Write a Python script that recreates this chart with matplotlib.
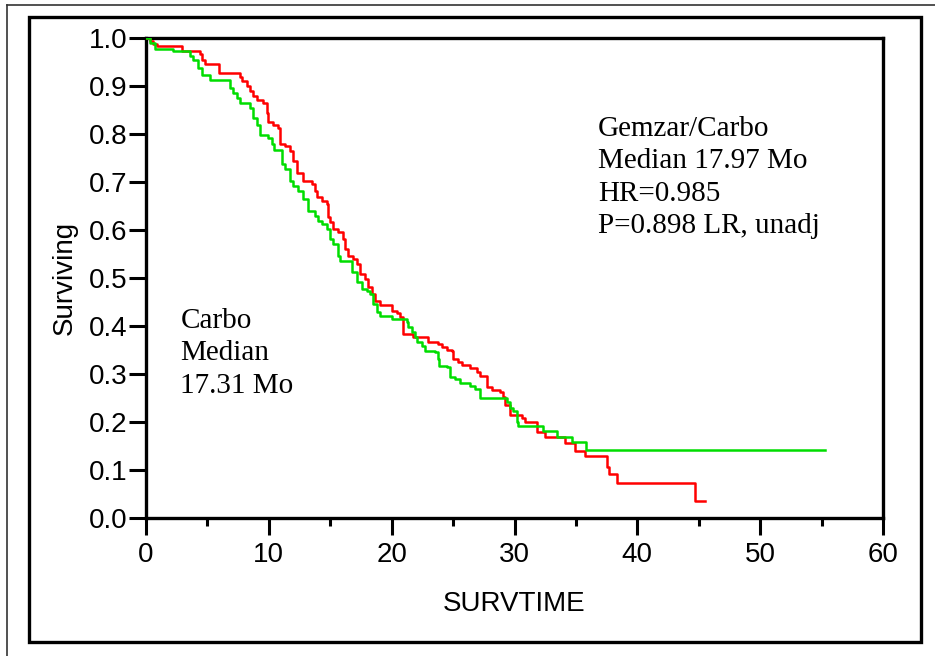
import numpy as np
import matplotlib.pyplot as plt
from matplotlib.patches import Rectangle
from matplotlib.lines import Line2D

# Kaplan-Meier steps (time in months, survival after step)
gem_time = [0, 0.33, 0.57, 0.9, 2.93, 4.4, 4.56, 4.8, 5.95, 7.65, 7.82, 8.22, 8.47, 8.71,
            9.04, 9.53, 9.85, 9.93, 10.34, 10.75, 10.91, 11.32, 11.73, 11.97, 12.3, 12.79,
            13.52, 13.76, 13.93, 14.33, 14.74, 14.82, 14.98, 15.23, 15.64, 16.04, 16.21,
            16.45, 16.86, 17.18, 17.43, 17.83, 18.08, 18.4, 18.65, 19.06, 20.03, 20.44,
            20.68, 20.93, 21.74, 22.96, 23.78, 24.1, 24.51, 24.92, 25.0, 25.41, 25.73,
            26.38, 26.95, 27.2, 27.77, 28.18, 28.83, 29.07, 29.23, 29.64, 30.62, 30.86,
            31.84, 32.49, 34.12, 34.93, 35.75, 37.54, 37.7, 38.36, 44.71, 45.5]
gem_surv = [1.0, 0.994, 0.987, 0.983, 0.973, 0.967, 0.954, 0.946, 0.927, 0.918, 0.910,
            0.900, 0.889, 0.879, 0.870, 0.864, 0.843, 0.826, 0.818, 0.812, 0.780, 0.774,
            0.764, 0.743, 0.718, 0.703, 0.695, 0.682, 0.669, 0.661, 0.655, 0.628, 0.617,
            0.603, 0.596, 0.582, 0.561, 0.546, 0.540, 0.529, 0.508, 0.498, 0.481, 0.467,
            0.452, 0.444, 0.431, 0.427, 0.418, 0.383, 0.377, 0.366, 0.362, 0.356, 0.351,
            0.347, 0.331, 0.324, 0.318, 0.312, 0.305, 0.295, 0.272, 0.266, 0.262, 0.253,
            0.236, 0.215, 0.209, 0.199, 0.180, 0.169, 0.157, 0.140, 0.130, 0.107, 0.092,
            0.073, 0.036, 0.036]

carbo_time = [0, 0.33, 0.73, 2.2, 3.58, 3.83, 4.23, 4.56, 5.21, 6.84, 7.08, 7.41, 7.65,
              8.47, 8.71, 9.04, 9.28, 9.93, 10.26, 10.42, 11.07, 11.32, 11.73, 11.97,
              12.38, 12.79, 13.19, 13.76, 14.01, 14.33, 14.74, 14.98, 15.23, 15.64, 15.8,
              16.78, 17.18, 17.59, 18.0, 18.24, 18.49, 18.81, 19.06, 20.03, 21.25, 21.34,
              21.66, 21.91, 22.07, 22.48, 22.72, 23.53, 23.78, 23.86, 24.51, 24.76, 25.16,
              25.57, 26.38, 26.79, 27.2, 29.4, 29.64, 29.89, 30.21, 30.29, 32.33, 33.47,
              34.69, 35.83, 55.3]
carbo_surv = [1.0, 0.990, 0.977, 0.973, 0.962, 0.954, 0.937, 0.923, 0.912, 0.895, 0.885,
              0.874, 0.864, 0.854, 0.833, 0.818, 0.797, 0.791, 0.780, 0.766, 0.738, 0.728,
              0.703, 0.692, 0.682, 0.665, 0.640, 0.630, 0.619, 0.613, 0.603, 0.582, 0.571,
              0.546, 0.536, 0.513, 0.492, 0.477, 0.473, 0.467, 0.446, 0.429, 0.421, 0.414,
              0.408, 0.397, 0.387, 0.377, 0.366, 0.358, 0.347, 0.345, 0.331, 0.316, 0.314,
              0.293, 0.289, 0.282, 0.274, 0.268, 0.251, 0.241, 0.230, 0.222, 0.201, 0.192,
              0.182, 0.169, 0.159, 0.142, 0.142]

gem_text = ["Gemzar/Carbo", "Median 17.97 Mo", "HR=0.985", "P=0.898 LR, unadj"]
carbo_text = ["Carbo", "Median", "17.31 Mo"]

W, H = 935, 656
fig = plt.figure(figsize=(W / 100, H / 100), dpi=100)
ax = fig.add_axes([146 / W, 1 - 518 / H, (883 - 146) / W, (518 - 38) / H])

ax.step(gem_time, gem_surv, where='post', color='#ff0000', lw=1.8, zorder=3)
ax.step(carbo_time, carbo_surv, where='post', color='#00dd00', lw=1.8, zorder=3)

ax.set_xlim(0, 60)
ax.set_ylim(0, 1.0)
ax.set_xticks(np.arange(0, 61, 10))
ax.set_xticks(np.arange(5, 60, 10), minor=True)
ax.set_yticks(np.arange(0, 1.01, 0.1))
ax.set_yticklabels([f'{v:.1f}' for v in np.arange(0, 1.01, 0.1)])

sans = 'Liberation Sans'
for lab in ax.get_xticklabels() + ax.get_yticklabels():
    lab.set_family(sans)
    lab.set_fontsize(20)
ax.tick_params(which='major', length=12, width=2.2, direction='out')
ax.tick_params(axis='x', which='major', pad=5)
ax.tick_params(axis='y', which='major', pad=1.5)
ax.tick_params(which='minor', length=6, width=2.2, direction='out')
for sp in ax.spines.values():
    sp.set_linewidth(2.4)

ax.set_xlabel('SURVTIME', family=sans, fontsize=20, labelpad=17)
ax.set_ylabel('Surviving', family=sans, fontsize=20, labelpad=8)

serif = 'Liberation Serif'
for i, line in enumerate(gem_text):
    ax.text(36.8, 0.81 - i * 0.067, line, family=serif, fontsize=21, va='center')
for i, line in enumerate(carbo_text):
    ax.text(2.8, 0.41 - i * 0.067, line, family=serif, fontsize=21, va='center')

# frames around the figure
fig.add_artist(Rectangle((29 / W, 1 - 642 / H), (921 - 29) / W, (642 - 17) / H,
                         transform=fig.transFigure, fill=False, lw=2.4, ec='black'))
fig.add_artist(Line2D([7 / W, 1], [1 - 5 / H, 1 - 5 / H], transform=fig.transFigure,
                      color='#333333', lw=1.2))
fig.add_artist(Line2D([7 / W, 7 / W], [0, 1 - 5 / H], transform=fig.transFigure,
                      color='#333333', lw=1.2))

fig.savefig('out.png', dpi=100)
